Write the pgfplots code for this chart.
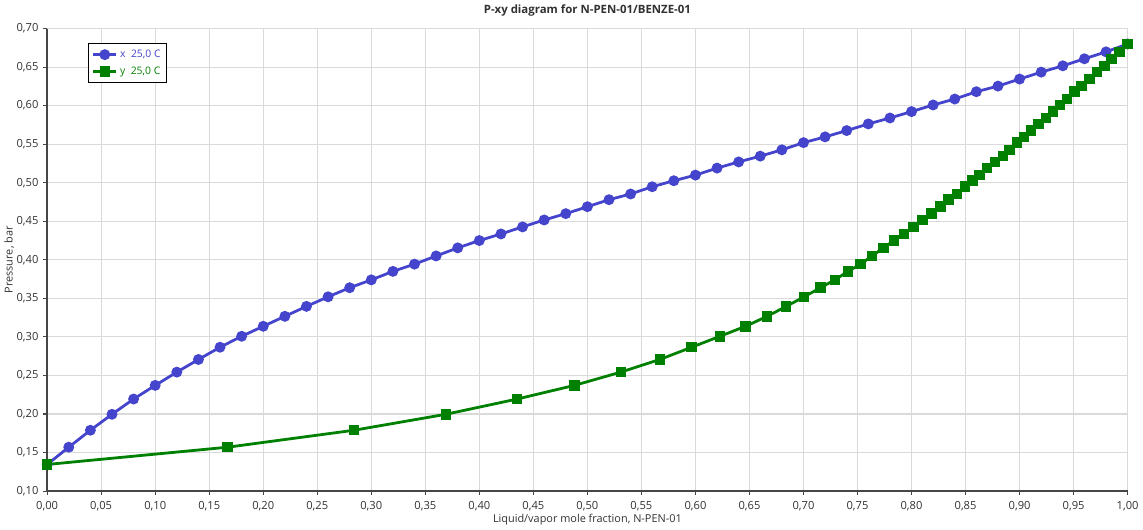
\documentclass[border=0pt]{standalone}
\usepackage{pgfplots}
\pgfplotsset{compat=1.18}
\usepackage{pgfplotstable}
\usepackage{fontspec}
\setmainfont{Open Sans}
\definecolor{bl}{RGB}{68,68,204}
\definecolor{gr}{RGB}{0,128,0}
\definecolor{gridc}{RGB}{218,218,218}
\definecolor{axc}{RGB}{70,70,70}
\definecolor{txt}{RGB}{50,50,50}

\pgfplotstableread{
x P
0.00 0.1345
0.02 0.1569
0.04 0.1789
0.06 0.1996
0.08 0.2194
0.10 0.2371
0.12 0.2543
0.14 0.2707
0.16 0.2866
0.18 0.3008
0.20 0.3138
0.22 0.3267
0.24 0.3396
0.26 0.3520
0.28 0.3638
0.30 0.3740
0.32 0.3850
0.34 0.3944
0.36 0.4050
0.38 0.4155
0.40 0.4250
0.42 0.4336
0.44 0.4427
0.46 0.4517
0.48 0.4599
0.50 0.4689
0.52 0.4780
0.54 0.4854
0.56 0.4948
0.58 0.5026
0.60 0.5099
0.62 0.5190
0.64 0.5270
0.66 0.5345
0.68 0.5427
0.70 0.5520
0.72 0.5595
0.74 0.5677
0.76 0.5763
0.78 0.5840
0.80 0.5923
0.82 0.6009
0.84 0.6086
0.86 0.6181
0.88 0.6254
0.90 0.6345
0.92 0.6435
0.94 0.6517
0.96 0.6608
0.98 0.6698
1.00 0.6800
}\liquid

\pgfplotstableread{
y P
0.0000 0.1345
0.1670 0.1569
0.2840 0.1789
0.3690 0.1996
0.4350 0.2194
0.4880 0.2371
0.5309 0.2543
0.5670 0.2707
0.5965 0.2866
0.6227 0.3008
0.6464 0.3138
0.6664 0.3267
0.6840 0.3396
0.7006 0.3520
0.7157 0.3638
0.7290 0.3740
0.7413 0.3850
0.7527 0.3944
0.7635 0.4050
0.7739 0.4155
0.7838 0.4250
0.7930 0.4336
0.8016 0.4427
0.8103 0.4517
0.8183 0.4599
0.8266 0.4689
0.8343 0.4780
0.8420 0.4854
0.8495 0.4948
0.8565 0.5026
0.8630 0.5099
0.8700 0.5190
0.8774 0.5270
0.8845 0.5345
0.8907 0.5427
0.8977 0.5520
0.9039 0.5595
0.9107 0.5677
0.9175 0.5763
0.9245 0.5840
0.9307 0.5923
0.9375 0.6009
0.9439 0.6086
0.9508 0.6181
0.9575 0.6254
0.9646 0.6345
0.9716 0.6435
0.9785 0.6517
0.9852 0.6608
0.9923 0.6698
1.0000 0.6800
}\vapor

\begin{document}
\begin{tikzpicture}
\begin{axis}[
  scale only axis,
  width=813pt, height=348pt,
  xmin=0, xmax=1, ymin=0.1, ymax=0.7,
  xtick={0,0.05,0.10,0.15,0.20,0.25,0.30,0.35,0.40,0.45,0.50,0.55,0.60,0.65,0.70,0.75,0.80,0.85,0.90,0.95,1.00},
  ytick={0.10,0.15,0.20,0.25,0.30,0.35,0.40,0.45,0.50,0.55,0.60,0.65,0.70},
  grid=major,
  major grid style={gridc, line width=0.8pt},
  axis x line*=bottom, axis y line*=left,
  axis line style={axc, line width=1.1pt, -},
  tick align=outside, major tick length=3pt,
  tick style={axc, line width=0.8pt},
  /pgf/number format/.cd, fixed, fixed zerofill, precision=2, use comma, assume math mode=true,
  /pgfplots/.cd,
  ticklabel style={font=\fontsize{8.4}{10}\selectfont, text=txt},
  xticklabel style={yshift=-1pt},
  title={\bfseries P-xy diagram for N-PEN-01/BENZE-01},
  title style={font=\fontsize{8.6}{10}\selectfont, text=txt, yshift=0pt},
  xlabel={Liquid/vapor mole fraction, N-PEN-01},
  ylabel={Pressure, bar},
  label style={font=\fontsize{8.2}{10}\selectfont, text=txt},
  xlabel style={yshift=4pt},
  ylabel style={yshift=-5pt},
  legend style={at={(rel axis cs:0.038,0.968)}, anchor=north west, draw=black, line width=0.8pt,
    font=\fontsize{7.8}{9}\selectfont, row sep=1.5pt, inner sep=2.5pt, cells={anchor=west}},
  legend image code/.code={
    \draw[mark repeat=2,mark phase=2] plot coordinates {(0cm,0cm) (0.3cm,0cm) (0.6cm,0cm)};},
]
\addplot[bl, line width=2.1pt, mark=*, mark size=3pt, mark options={solid}] table[x=x,y=P] {\liquid};
\addlegendentry{\textcolor{bl}{x\ \ 25,0 C}}
\addplot[gr, line width=2.1pt, mark=square*, mark size=2.9pt, mark options={solid}] table[x=y,y=P] {\vapor};
\addlegendentry{\textcolor{gr}{y\ \ 25,0 C}}
\end{axis}
\end{tikzpicture}
\end{document}
